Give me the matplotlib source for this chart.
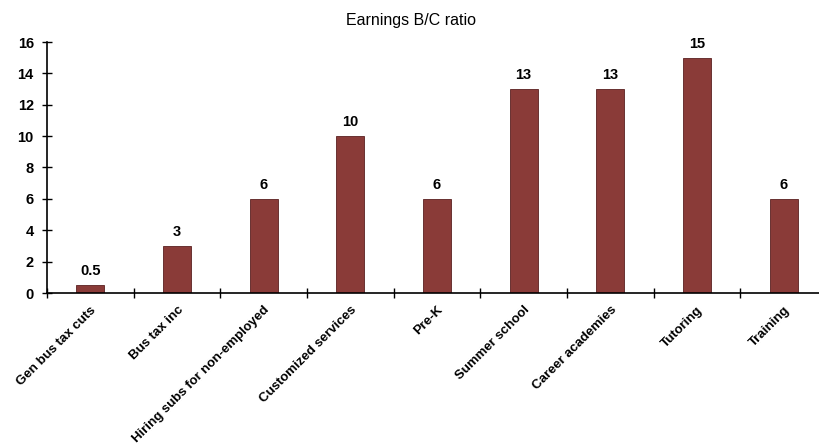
import matplotlib.pyplot as plt
import numpy as np

# datos del grafico
categorias = ["Gen bus tax cuts", "Bus tax inc", "Hiring subs for non-employed",
              "Customized services", "Pre-K", "Summer school",
              "Career academies", "Tutoring", "Training"]
valores = [0.5, 3, 6, 10, 6, 13, 13, 15, 6]
etiquetas = ["0.5", "3", "6", "10", "6", "13", "13", "15", "6"]

plt.rcParams['font.family'] = ['Liberation Sans', 'DejaVu Sans']

fig = plt.figure(figsize=(8.19, 4.44), dpi=100)
ax = fig.add_axes([47/819, 1 - 293/444, 780/819, 251/444])

x = np.arange(len(categorias))
ax.bar(x, valores, width=0.32, color='#8a3b38', edgecolor='#5a2020', linewidth=0.6)

for xi, v, t in zip(x, valores, etiquetas):
    ax.text(xi, v + 0.45, t, ha='center', va='bottom', fontsize=10.5, fontweight='bold')

ax.set_xlim(-0.5, len(categorias) - 0.5)
ax.set_ylim(0, 16)
ax.set_yticks(range(0, 17, 2))
ax.set_yticklabels([str(v) for v in range(0, 17, 2)], fontsize=10.5, fontweight='bold')

ax.set_xticks(x)
ax.set_xticklabels(categorias, rotation=45, ha='right', va='top',
                   rotation_mode='anchor', fontsize=9.5, fontweight='bold')
ax.tick_params(axis='x', which='major', length=0, pad=8)
ax.set_xticks(np.arange(-0.5, len(categorias), 1), minor=True)
ax.tick_params(axis='x', which='minor', length=7, direction='inout', width=1)
ax.tick_params(axis='y', length=7, direction='inout', width=1, pad=6)

for s in ['top', 'right']:
    ax.spines[s].set_visible(False)
ax.spines['left'].set_linewidth(1.2)
ax.spines['bottom'].set_linewidth(1.2)

fig.text(411/819, 1 - 20/444, "Earnings B/C ratio", ha='center', va='center', fontsize=11.5)

fig.savefig("out.png", dpi=100)
